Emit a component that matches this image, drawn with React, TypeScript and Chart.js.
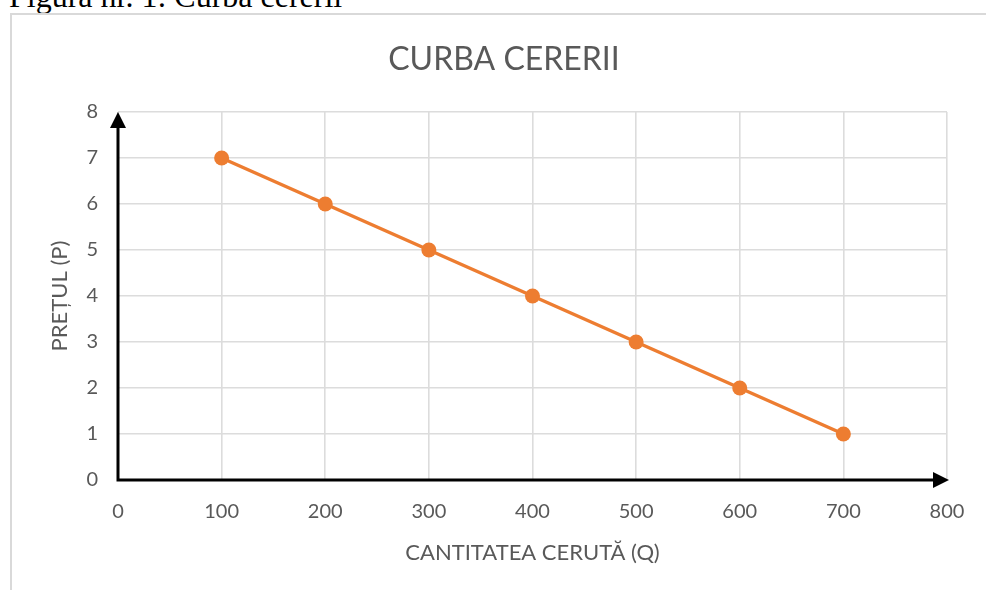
import React, { useEffect, useRef } from "react";
import { Chart, registerables } from "chart.js";

Chart.register(...registerables);

const CAPTION = "Figura nr. 1: Curba cererii";
const CHART_TITLE = "CURBA CERERII";
const X_TITLE = "CANTITATEA CERUTĂ (Q)";
const Y_TITLE = "PREȚUL (P)";
const quantities = [100, 200, 300, 400, 500, 600, 700];
const prices = [7, 6, 5, 4, 3, 2, 1];
const X_MIN = 0, X_MAX = 800, X_STEP = 100;
const Y_MIN = 0, Y_MAX = 8, Y_STEP = 1;

const FONT = "Lato, 'Open Sans', sans-serif";
const TEXT = "#595959";
const GRID = "#dcdcdc";
const ORANGE = "#ED7D31";

const arrowAxes = {
  id: "arrowAxes",
  afterDatasetsDraw(chart: any) {
    const { ctx, scales } = chart;
    const xs = scales.x, ys = scales.y;
    const x0 = xs.getPixelForValue(X_MIN);
    const xR = xs.getPixelForValue(X_MAX);
    const y0 = ys.getPixelForValue(Y_MIN);
    const yT = ys.getPixelForValue(Y_MAX);
    const head = 16, half = 8;
    ctx.save();
    ctx.strokeStyle = "#000";
    ctx.fillStyle = "#000";
    ctx.lineWidth = 3;
    ctx.lineCap = "butt";
    ctx.beginPath();
    ctx.moveTo(x0, y0 + 1.5);
    ctx.lineTo(x0, yT + head - 1);
    ctx.moveTo(x0 - 1.5, y0);
    ctx.lineTo(xR + 2 - head + 1, y0);
    ctx.stroke();
    ctx.beginPath();
    ctx.moveTo(x0, yT);
    ctx.lineTo(x0 - half, yT + head);
    ctx.lineTo(x0 + half, yT + head);
    ctx.closePath();
    ctx.fill();
    ctx.beginPath();
    ctx.moveTo(xR + 2, y0);
    ctx.lineTo(xR + 2 - head, y0 - half);
    ctx.lineTo(xR + 2 - head, y0 + half);
    ctx.closePath();
    ctx.fill();
    ctx.restore();
  },
};

export default function App() {
  const ref = useRef<HTMLCanvasElement | null>(null);
  useEffect(() => {
    if (!ref.current) return;
    const chart = new Chart(ref.current, {
      type: "line",
      data: {
        datasets: [
          {
            data: quantities.map((q, i) => ({ x: q, y: prices[i] })),
            borderColor: ORANGE,
            backgroundColor: ORANGE,
            borderWidth: 3.5,
            pointRadius: 7.5,
            pointBackgroundColor: ORANGE,
            pointBorderColor: ORANGE,
            pointBorderWidth: 0,
            fill: false,
            tension: 0,
          },
        ],
      },
      options: {
        animation: false,
        responsive: true,
        maintainAspectRatio: false,
        layout: { padding: { left: 49, right: 39, top: 0, bottom: 23.8 } },
        plugins: {
          legend: { display: false },
          tooltip: { enabled: false },
          title: {
            display: true,
            text: CHART_TITLE,
            color: TEXT,
            font: { family: FONT, size: 32, weight: "normal" },
            padding: { top: 25.8, bottom: 32.8 },
          },
        },
        scales: {
          x: {
            type: "linear",
            min: X_MIN,
            max: X_MAX,
            ticks: { stepSize: X_STEP, color: TEXT, font: { family: FONT, size: 20 }, padding: 20 },
            grid: { color: GRID, lineWidth: 1.6, drawTicks: false },
            border: { display: false },
            title: {
              display: true,
              text: X_TITLE,
              color: TEXT,
              font: { family: FONT, size: 22 },
              padding: { top: -4.2, bottom: 0 },
            },
          },
          y: {
            type: "linear",
            min: Y_MIN,
            max: Y_MAX,
            ticks: { stepSize: Y_STEP, color: TEXT, font: { family: FONT, size: 20 }, padding: 20 },
            grid: { color: GRID, lineWidth: 1.6, drawTicks: false },
            border: { display: false },
            title: {
              display: true,
              text: Y_TITLE,
              color: TEXT,
              font: { family: FONT, size: 22 },
              padding: { top: -14.2, bottom: -6.8 },
            },
          },
        },
      },
      plugins: [arrowAxes],
    });
    return () => chart.destroy();
  }, []);

  return (
    <div style={{ position: "fixed", left: 0, top: 0, width: 986, height: 590, overflow: "hidden", background: "#fff" }}>
      <div
        style={{
          position: "absolute",
          left: 9,
          top: -20,
          fontFamily: "'Liberation Serif', 'Times New Roman', serif",
          fontSize: 32,
          lineHeight: "32px",
          color: "#000",
          whiteSpace: "nowrap",
        }}
      >
        {CAPTION}
      </div>
      <div
        style={{
          position: "absolute",
          left: 10,
          top: 13,
          width: 1000,
          height: 600,
          border: "2px solid #d9d9d9",
          boxSizing: "border-box",
        }}
      />
      <div style={{ position: "absolute", left: 12, top: 15, width: 974, height: 575 }}>
        <canvas ref={ref} />
      </div>
    </div>
  );
}
